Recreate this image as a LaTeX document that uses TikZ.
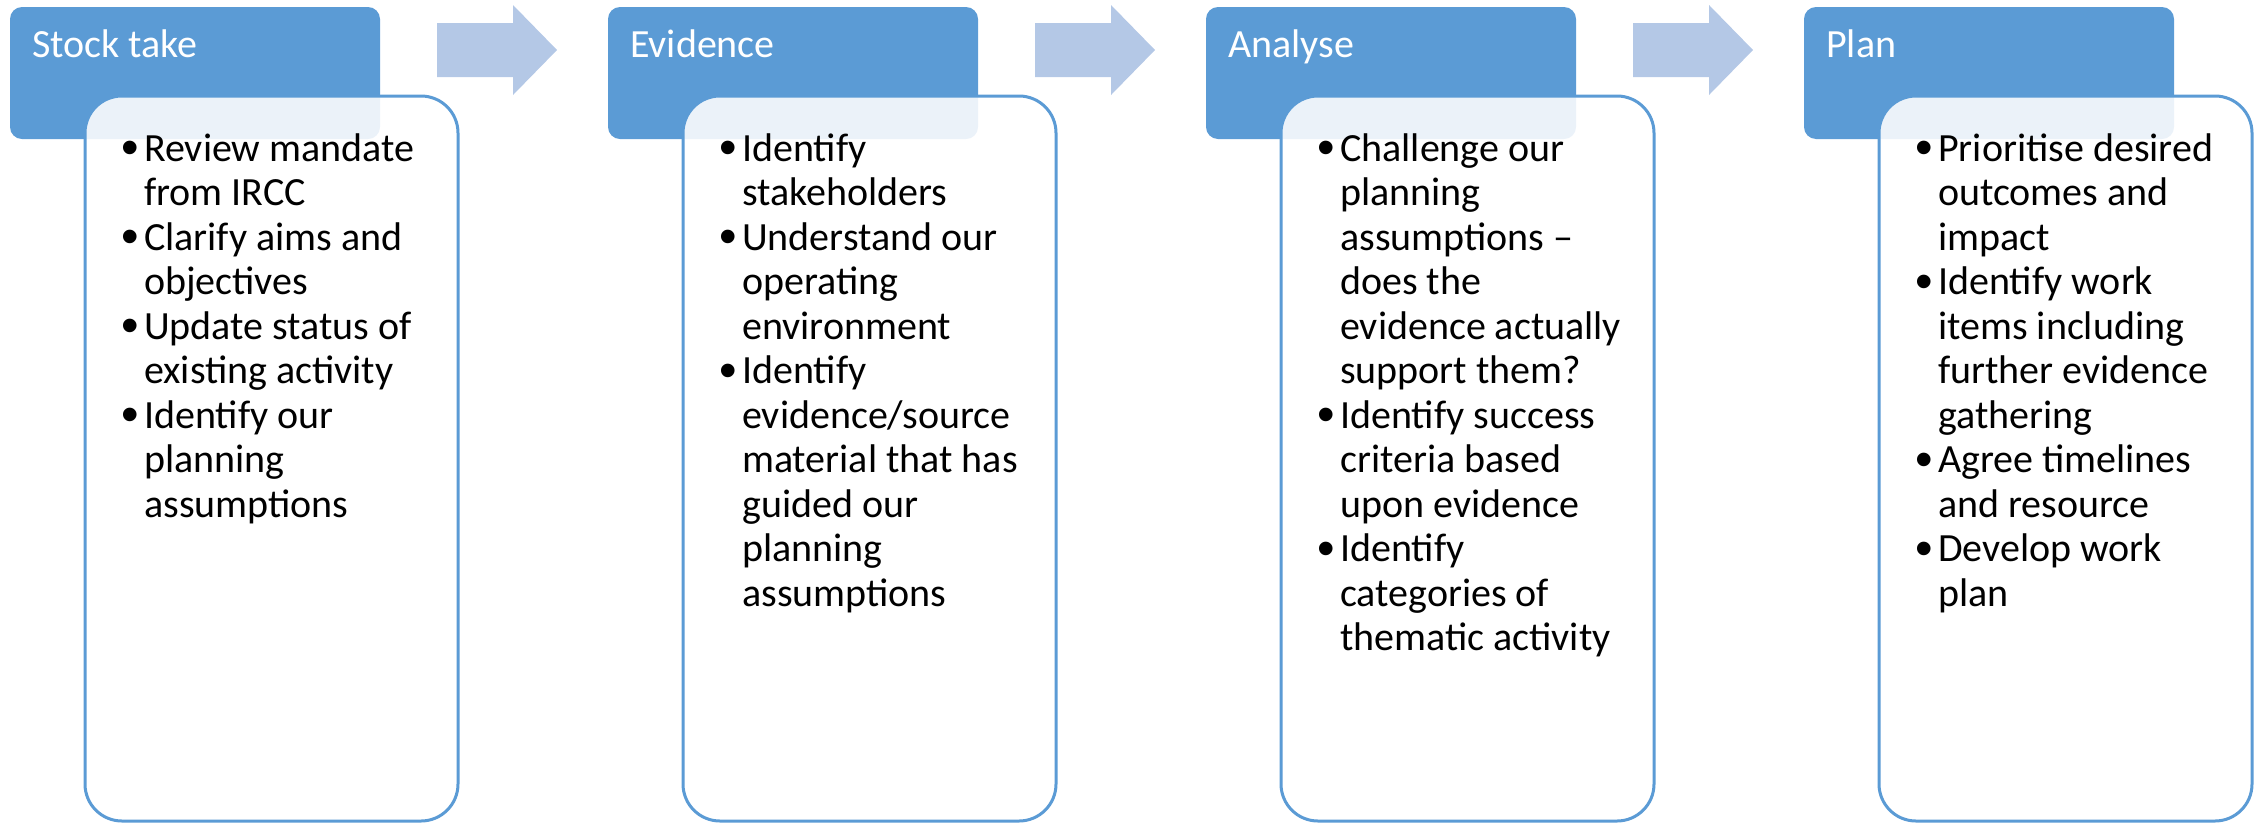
\documentclass[tikz,border=0pt]{standalone}
\usepackage{fontspec}
\setmainfont{Carlito}
\newfontfamily\bulletfont{Liberation Sans}
\definecolor{hdrblue}{HTML}{5B9BD5}
\definecolor{arrowblue}{HTML}{B4C8E6}
\newcommand{\bl}[1]{\makebox[23pt][l]{\raisebox{-3.5pt}{\bulletfont\fontsize{50}{44.5}\selectfont\textbullet}}#1\\}
\newcommand{\ct}[1]{\hspace*{23pt}#1\\}
\tikzset{
  hdrbox/.style={fill=hdrblue, draw=none, rounded corners=12pt},
  contentbox/.style={fill=white, fill opacity=0.88, draw=hdrblue, draw opacity=1, line width=3pt, rounded corners=37pt},
  hdrtext/.style={anchor=base west, inner sep=0pt, text=white, font=\fontsize{40}{45}\selectfont},
  bodytext/.style={anchor=base west, inner sep=0pt, text=black, font=\fontsize{40}{44.5}\selectfont},
  flowarrow/.style={fill=arrowblue, draw=none}
}
\begin{document}
\begin{tikzpicture}[x=1pt,y=-1pt]
\useasboundingbox (0,0) rectangle (2264,823);
\foreach \i/\name/\title in {0/h1/Stock take,1/h2/Evidence,2/h3/Analyse,3/h4/Plan}{
  \begin{scope}[xshift=\i*598pt]
    \path[hdrbox] (10,7) rectangle (380,139);
    \path[contentbox] (85,96) rectangle (458,821);
    \node[hdrtext] (\name) at (32,57) {\title};
  \end{scope}
}
\foreach \i/\name in {0/a1,1/a2,2/a3}{
  \begin{scope}[xshift=\i*598pt]
    \path[flowarrow] (437,23) -- (513,23) -- (513,5) -- (557,50) -- (513,95) -- (513,77) -- (437,77) -- cycle;
    \coordinate (\name) at (497,50);
  \end{scope}
}
\node[bodytext] (b1) at (121,161) {\parbox[t]{330pt}{\raggedright
\bl{Review mandate}
\ct{from IRCC}
\bl{Clarify aims and}
\ct{objectives}
\bl{Update status of}
\ct{existing activity}
\bl{Identify our}
\ct{planning}
\ct{assumptions}}};
\node[bodytext] (b2) at (719,161) {\parbox[t]{330pt}{\raggedright
\bl{Identify}
\ct{stakeholders}
\bl{Understand our}
\ct{operating}
\ct{environment}
\bl{Identify}
\ct{evidence/source}
\ct{material that has}
\ct{guided our}
\ct{planning}
\ct{assumptions}}};
\node[bodytext] (b3) at (1317,161) {\parbox[t]{330pt}{\raggedright
\bl{Challenge our}
\ct{planning}
\ct{assumptions –}
\ct{does the}
\ct{evidence actually}
\ct{support them?}
\bl{Identify success}
\ct{criteria based}
\ct{upon evidence}
\bl{Identify}
\ct{categories of}
\ct{thematic activity}}};
\node[bodytext] (b4) at (1915,161) {\parbox[t]{330pt}{\raggedright
\bl{Prioritise desired}
\ct{outcomes and}
\ct{impact}
\bl{Identify work}
\ct{items including}
\ct{further evidence}
\ct{gathering}
\bl{Agree timelines}
\ct{and resource}
\bl{Develop work}
\ct{plan}}};
\end{tikzpicture}
\end{document}
